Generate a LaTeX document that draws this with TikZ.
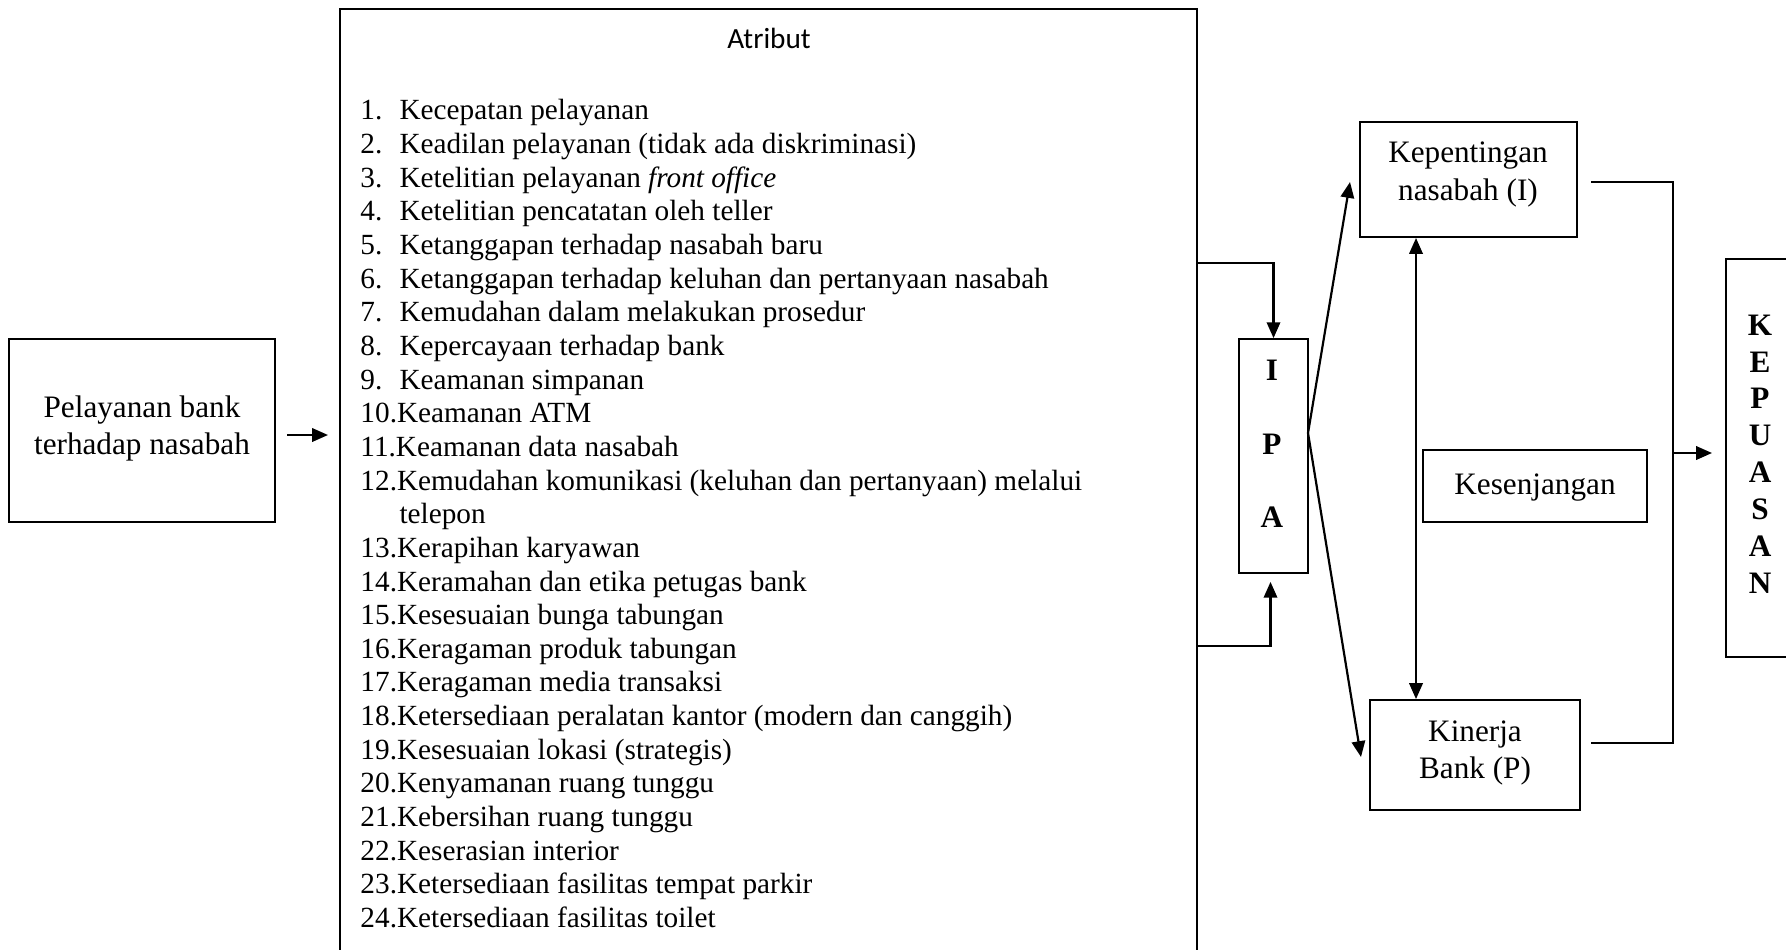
\documentclass[tikz,border=0pt]{standalone}
\usepackage{fontspec}
\setmainfont{Liberation Serif}
\newfontfamily\calibrifont{Carlito}
\usetikzlibrary{arrows.meta,calc}

\begin{document}
\begin{tikzpicture}[
    x=0.41pt,
    y=-0.41pt,
    >={Triangle[length=6.5pt,width=5.5pt]},
    box/.style={
        draw=black,
        line width=0.75pt,
        inner sep=0pt
    },
    boxtext/.style={
        align=center,
        inner sep=0pt,
        font=\fontsize{12.8}{15.5}\selectfont
    },
    listtext/.style={
        align=left,
        inner sep=0pt,
        font=\fontsize{12}{13.8}\selectfont
    },
    bigletter/.style={
        align=center,
        inner sep=0pt,
        font=\fontsize{12.8}{15.1}\selectfont\bfseries
    },
    flow/.style={
        ->,
        draw=black,
        line width=0.9pt
    },
    link/.style={
        draw=black,
        line width=0.75pt
    }
]

\clip (0,0) rectangle (1786,949);

% =====================================================
% Boxes
% =====================================================

\node[box, minimum width=109.1pt, minimum height=75.0pt] (pel) at (142,430.5) {};
\node[box, minimum width=351.4pt, minimum height=406.3pt] (attr) at (768.5,504.5) {};
\node[box, minimum width=28.3pt, minimum height=95.9pt] (ipa) at (1273.5,456) {};
\node[box, minimum width=89.0pt, minimum height=47.2pt] (kep) at (1468.5,179.5) {};
\node[box, minimum width=86.1pt, minimum height=45.1pt] (kin) at (1475,755) {};
\node[box, minimum width=91.8pt, minimum height=29.5pt] (kes) at (1535,486) {};
\node[box, minimum width=34.4pt, minimum height=163.2pt] (kps) at (1768,458) {};

% =====================================================
% Texts
% =====================================================

\node[boxtext] (peltext) at (142,428.5) {Pelayanan bank\\terhadap nasabah};
\node[boxtext] (keptext) at (1468,174.5) {Kepentingan\\nasabah (I)};
\node[boxtext] (kintext) at (1475,753) {Kinerja\\Bank (P)};
\node[boxtext] (kestext) at (1535,487.5) {Kesenjangan};

\node[inner sep=0pt, font=\calibrifont\fontsize{12}{14}\selectfont] (attrtitle) at (769,38) {Atribut};

\node[bigletter] (ipatext) at (1272,444) {I\\[15pt]P\\[15pt]A};
\node[bigletter] (kpstext) at (1760,454) {K\\E\\P\\U\\A\\S\\A\\N};

\node[listtext, anchor=north west] (items) at (360,99) {%
\makebox[16pt][l]{1.}Kecepatan pelayanan\\
\makebox[16pt][l]{2.}Keadilan pelayanan (tidak ada diskriminasi)\\
\makebox[16pt][l]{3.}Ketelitian pelayanan \textit{front office}\\
\makebox[16pt][l]{4.}Ketelitian pencatatan oleh teller\\
\makebox[16pt][l]{5.}Ketanggapan terhadap nasabah baru\\
\makebox[16pt][l]{6.}Ketanggapan terhadap keluhan dan pertanyaan nasabah\\
\makebox[16pt][l]{7.}Kemudahan dalam melakukan prosedur\\
\makebox[16pt][l]{8.}Kepercayaan terhadap bank\\
\makebox[16pt][l]{9.}Keamanan simpanan\\
10.Keamanan ATM\\
11.Keamanan data nasabah\\
12.Kemudahan komunikasi (keluhan dan pertanyaan) melalui\\
\hspace*{16pt}telepon\\
13.Kerapihan karyawan\\
14.Keramahan dan etika petugas bank\\
15.Kesesuaian bunga tabungan\\
16.Keragaman produk tabungan\\
17.Keragaman media transaksi\\
18.Ketersediaan peralatan kantor (modern dan canggih)\\
19.Kesesuaian lokasi (strategis)\\
20.Kenyamanan ruang tunggu\\
21.Kebersihan ruang tunggu\\
22.Keserasian interior\\
23.Ketersediaan fasilitas tempat parkir\\
24.Ketersediaan fasilitas toilet};

% =====================================================
% Connector points
% =====================================================

\coordinate (pelout) at (287,435);
\coordinate (attrin) at (328,435);
\coordinate (attrtop) at (1197,263);
\coordinate (attrbot) at (1197,646);
\coordinate (ipaout) at (1308,433);
\coordinate (kepin) at (1350,182);
\coordinate (kinin) at (1361,757);
\coordinate (kepout) at (1591,182);
\coordinate (kinout) at (1591,743);
\coordinate (bend) at (1673,453);
\coordinate (kpsin) at (1712,453);

% =====================================================
% Connectors
% =====================================================

\draw[flow] (pelout) -- (attrin);

\draw[flow] (attrtop) -| (ipa.north);
\draw[flow] (attrbot) -| ($(ipa.south)+(-3,8)$);

\draw[flow] (ipaout) -- (kepin);
\draw[flow] (ipaout) -- (kinin);

\draw[flow, <->] (kep.south -| 1416,0) -- (kin.north -| 1416,0);

\draw[link] (kepout) -| (bend |- kinout) -- (kinout);
\draw[flow] (bend) -- (kpsin);

\end{tikzpicture}
\end{document}
